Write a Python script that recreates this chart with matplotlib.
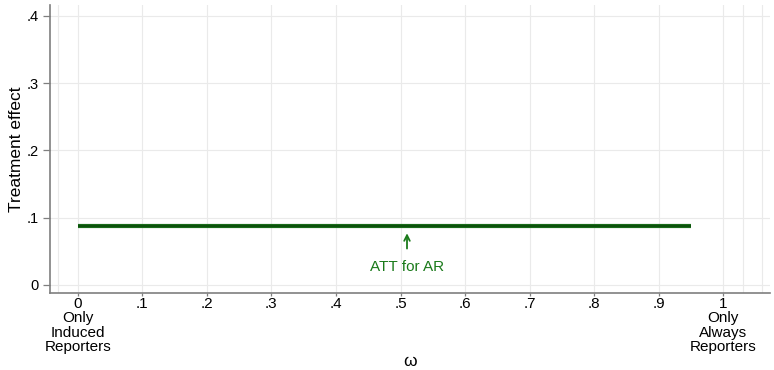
import numpy as np
import matplotlib
matplotlib.use("Agg")
from matplotlib import pyplot as plt

# data
omega = [0.0, 0.95]
effect = [0.087, 0.087]
att_x = 0.51
x_ticks = [0, .1, .2, .3, .4, .5, .6, .7, .8, .9, 1]
x_labels = ["0\nOnly\nInduced\nReporters", ".1", ".2", ".3", ".4", ".5", ".6", ".7", ".8", ".9",
            "1\nOnly\nAlways\nReporters"]
y_ticks = [0, .1, .2, .3, .4]
y_labels = ["0", ".1", ".2", ".3", ".4"]
extra_vlines = [-0.031, 1.03, 1.06]

plt.rcParams['font.family'] = ['Liberation Sans', 'DejaVu Sans']

fig = plt.figure(figsize=(7.74, 3.7), dpi=100)
ax = fig.add_axes([0.0646, 0.208, 0.930, 0.778])

grid_col = "#eaeaea"
for y in y_ticks:
    ax.axhline(y, color=grid_col, lw=0.8, zorder=0)
for x in x_ticks + extra_vlines:
    ax.axvline(x, color=grid_col, lw=0.8, zorder=0)

ax.plot(omega, effect, color="#1a6b1a", lw=3.0, solid_capstyle="butt", zorder=3)
ax.plot(omega, effect, color="#0b4f0b", lw=1.3, solid_capstyle="butt", zorder=4)

ax.annotate("", xy=(att_x, 0.081), xytext=(att_x, 0.050),
            arrowprops=dict(arrowstyle="->", color="#1a7a1a", lw=1.3))
ax.text(att_x, 0.026, "ATT for AR", color="#1a7a1a", fontsize=11, ha="center", va="center")

ax.set_xlim(-0.043, 1.072)
ax.set_ylim(-0.012, 0.416)
ax.set_xticks(x_ticks)
ax.set_xticklabels(x_labels, fontsize=11, linespacing=1.02, va="top")
ax.set_yticks(y_ticks)
ax.set_yticklabels(y_labels, fontsize=10.5)
ax.set_xlabel("ω", fontsize=12.5, labelpad=0)
ax.set_ylabel("Treatment effect", fontsize=12.5, labelpad=2)

for s in ["top", "right"]:
    ax.spines[s].set_visible(False)
for s in ["left", "bottom"]:
    ax.spines[s].set_color("#7f7f7f")
    ax.spines[s].set_linewidth(1.2)
ax.tick_params(axis="x", direction="out", length=2, color="#7f7f7f", width=0.9, pad=1)
ax.tick_params(axis="y", direction="out", length=5, color="#7f7f7f", width=0.9, pad=3)

fig.savefig("out.png", dpi=100)
